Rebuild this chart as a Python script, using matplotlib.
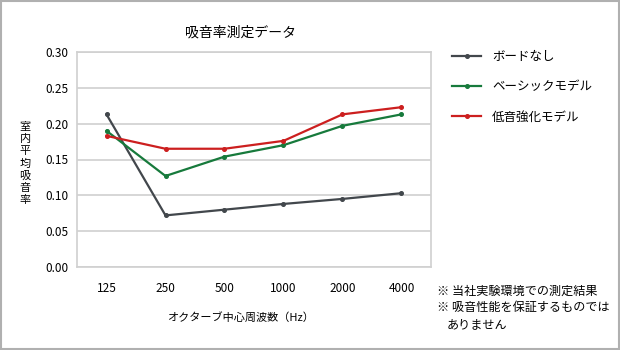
import matplotlib
matplotlib.use('Agg')
import matplotlib.pyplot as plt
from matplotlib.patches import Rectangle

plt.rcParams['font.family'] = ['Noto Sans CJK JP', 'DejaVu Sans']

freqs = ['125', '250', '500', '1000', '2000', '4000']
no_board = [0.213, 0.072, 0.080, 0.088, 0.095, 0.103]
basic = [0.190, 0.127, 0.154, 0.170, 0.197, 0.213]
low_boost = [0.183, 0.165, 0.165, 0.176, 0.213, 0.223]
names = ['ボードなし', 'ベーシックモデル', '低音強化モデル']
colors = ['#42474c', '#177a3c', '#cc1f1f']
yticks = [0.00, 0.05, 0.10, 0.15, 0.20, 0.25, 0.30]
ylabel = '室内平均吸音率'

fig = plt.figure(figsize=(6.2, 3.5), dpi=100)
ax = fig.add_axes([77/620, 1-267/350, 354/620, 215/350])

x = range(len(freqs))
for vals, c, n in zip([no_board, basic, low_boost], colors, names):
    ax.plot(x, vals, color=c, lw=1.6, marker='o', ms=2.6, label=n)

ax.set_xlim(-0.5, len(freqs)-0.5)
ax.set_ylim(0, 0.30)
ax.set_yticks(yticks)
ax.set_yticklabels(['%.2f' % v for v in yticks], fontsize=8.5)
ax.set_xticks(list(x))
ax.set_xticklabels(freqs, fontsize=8.5)
ax.tick_params(length=0, pad=11, axis='x')
ax.tick_params(length=0, pad=6, axis='y')
ax.grid(axis='y', color='#d0d0d0', lw=1.2)
ax.set_axisbelow(True)
for s in ax.spines.values():
    s.set_color('#d0d0d0')
    s.set_linewidth(1.2)

fig.text(240/620, 1-33/350, '吸音率測定データ', ha='center', va='center', fontsize=10)
fig.text(241/620, 1-317/350, 'オクターブ中心周波数（Hz）', ha='center', va='center', fontsize=8)
# vertical label, one character per row
for i, ch in enumerate(ylabel):
    fig.text(25/620, 1-(127 + i*12.2)/350, ch, ha='center', va='center', fontsize=8)

ax.legend(loc='upper left', bbox_to_anchor=(441/620, 1-39/350), bbox_transform=fig.transFigure,
          frameon=False, fontsize=9, handlelength=2.3, labelspacing=1.37, handletextpad=0.9)

fig.text(437/620, 1-291/350, '※ 当社実験環境での測定結果', ha='left', va='center', fontsize=8.7)
fig.text(437/620, 1-308/350, '※ 吸音性能を保証するものでは', ha='left', va='center', fontsize=8.7)
fig.text(447/620, 1-325/350, 'ありません', ha='left', va='center', fontsize=8.7)

fig.patches.append(Rectangle((1/620, 1/350), 618/620, 348/350, transform=fig.transFigure,
                             fill=False, edgecolor='#b0b0b0', lw=1.5))

fig.savefig('out.png', dpi=100)
